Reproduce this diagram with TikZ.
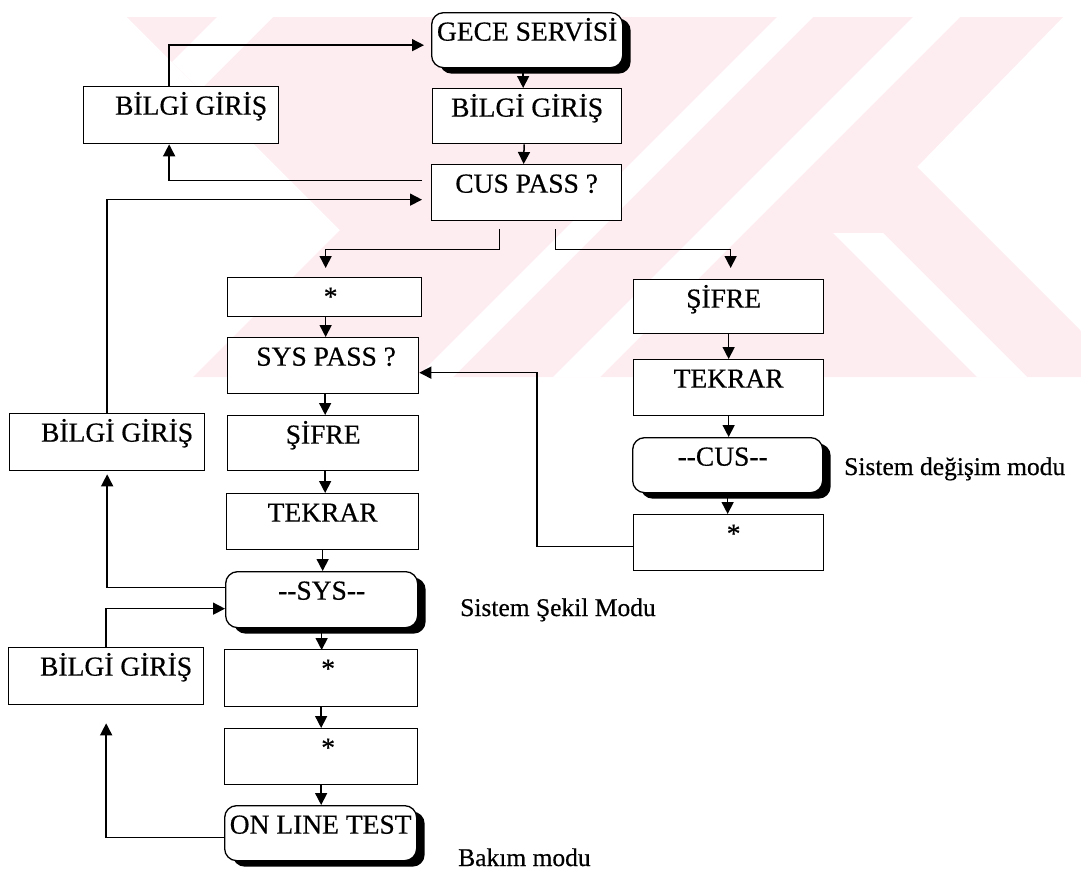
\documentclass[tikz,border=0pt]{standalone}
\usepackage{fontspec}
\setmainfont{Liberation Serif}[FakeBold=0.5]
\usetikzlibrary{shadows,arrows.meta,calc}
\definecolor{wm}{RGB}{253,236,240}
\begin{document}
\begin{tikzpicture}[x=1pt,y=-1pt,
  every node/.style={font=\fontsize{27.5}{31}\selectfont},
  box/.style={draw, line width=1.3pt, fill=white, inner xsep=0pt, inner ysep=0pt,
    text height=28pt, anchor=north west},
  rbox/.style={box, rounded corners=12pt,
    drop shadow={shadow xshift=8pt, shadow yshift=-6pt, fill=black, opacity=1}},
  arr/.style={line width=1.5pt, -{Triangle[length=12pt,width=12pt]}},
  lbl/.style={inner sep=0pt, anchor=base west, font=\fontsize{25.5}{30}\selectfont}]
\useasboundingbox (0,0) rectangle (1081,871);

% background emblem
\begin{scope}
  \clip (127,17) -- (1063,17) -- (917,167) -- (1081,331) -- (1081,377)
        -- (193,377) -- (340,230) -- cycle;
  \fill[wm] (0,0) rectangle (1081,400);
  \fill[white] (234,0) -- (290,0) -- (-110,400) -- (-166,400) -- cycle;
  \fill[white] (794,0) -- (830,0) -- (430,400) -- (394,400) -- cycle;
  \fill[white] (930,0) -- (977,0) -- (577,400) -- (530,400) -- cycle;
  \fill[white] (833,233) -- (883,233) -- (1083,433) -- (1033,433) -- cycle;
\end{scope}

% main column
\node[rbox, minimum width=191pt, text depth=27pt] (gece) at (431,12) {GECE SERVİSİ};
\node[box, minimum width=189pt, text depth=27pt] (b1) at (432,88) {BİLGİ GİRİŞ};
\node[box, minimum width=190pt, text depth=28pt] (cus) at (431,164) {CUS PASS ?};

% system column
\node[box, minimum width=194pt, text depth=11pt] (star1) at (227,277) {\hspace*{12pt}*};
\node[box, minimum width=191pt, text depth=28pt] (sp) at (227,337) {\hspace*{6pt}SYS PASS ?};
\node[box, minimum width=191pt, text depth=27pt] (sif1) at (227,415) {ŞİFRE};
\node[box, minimum width=192pt, text depth=28pt] (tek1) at (226,493) {TEKRAR};
\node[rbox, minimum width=192pt, text depth=28pt] (sys) at (225,571) {-{}-SYS-{}-};
\node[box, minimum width=193pt, text depth=29pt] (star2) at (224,649) {\hspace*{14pt}*};
\node[box, minimum width=193pt, text depth=28pt] (star3) at (224,728) {\hspace*{14pt}*};
\node[rbox, minimum width=192pt, text depth=27pt] (onl) at (224,805) {ON LINE TEST};

% customer column
\node[box, minimum width=190pt, text depth=26pt] (sif2) at (633,279) {ŞİFRE\hspace*{10pt}};
\node[box, minimum width=190pt, text depth=28pt] (tek2) at (633,359) {TEKRAR};
\node[rbox, minimum width=190pt, text depth=27pt] (cus2) at (632,437) {-{}-CUS-{}-\hspace*{10pt}};
\node[box, minimum width=190pt, text depth=28pt] (star4) at (633,514) {\hspace*{10pt}*};

% data entry boxes
\node[box, minimum width=195pt, text depth=29pt] (bl1) at (83,86) {\hspace*{20pt}BİLGİ GİRİŞ};
\node[box, minimum width=195pt, text depth=29pt] (bl2) at (9,413) {\hspace*{20pt}BİLGİ GİRİŞ};
\node[box, minimum width=195pt, text depth=29pt] (bl3) at (8,647) {\hspace*{20pt}BİLGİ GİRİŞ};

% mode labels
\node[lbl] (m1) at (844,475) {Sistem değişim modu};
\node[lbl] (m2) at (460,616) {Sistem Şekil Modu};
\node[lbl] (m3) at (458,866) {Bakım modu};

% main flow
\draw[arr] ([xshift=-4pt]gece.south) -- ([xshift=-4pt]b1.north);
\draw[arr] ([xshift=-3pt]b1.south) -- ([xshift=-3pt]cus.north);
\draw[arr, shorten >=9pt] ([xshift=-27pt,yshift=-8pt]cus.south) -- ++(0,20) -| ([xshift=1pt]star1.north);
\draw[arr, shorten >=11pt] ([xshift=29pt,yshift=-8pt]cus.south) -- ++(0,20) -| ([xshift=2pt]sif2.north);

\draw[arr] ([xshift=1pt]star1.south) -- ([xshift=1pt]star1.south |- sp.north);
\draw[arr] ([xshift=2pt]sp.south) -- ([xshift=2pt]sp.south |- sif1.north);
\draw[arr] ([xshift=2pt]sif1.south) -- ([xshift=2pt]sif1.south |- tek1.north);
\draw[arr] (tek1.south) -- (tek1.south |- sys.north);
\draw[arr] (sys.south) -- ([yshift=-1pt]sys.south |- star2.north);
\draw[arr] (star2.south) -- (star2.south |- star3.north);
\draw[arr] (star3.south) -- (star3.south |- onl.north);

\draw[arr] (sif2.south) -- (sif2.south |- tek2.north);
\draw[arr] (tek2.south) -- (tek2.south |- cus2.north);
\draw[arr] (cus2.south) -- (cus2.south |- star4.north);
\draw[arr] ([yshift=-4pt]star4.west) -- ++(-96,0) |- ([yshift=-7pt]sp.east);

% data entry loops
\draw[arr, shorten >=7pt] ([xshift=-12pt]bl1.north) |- ([yshift=-5pt]gece.west);
\draw[arr] ([xshift=-9pt,yshift=12pt]cus.west) -| ([xshift=-12pt]bl1.south);
\draw[arr, shorten >=9pt] (bl2.north) |- ([yshift=-7pt]cus.west);
\draw[arr, shorten >=3pt] ([yshift=12pt]sys.west) -| (bl2.south);
\draw[arr] (bl3.north) |- ([yshift=-9pt]sys.west);
\draw[arr, shorten >=18pt] ([yshift=-4.5pt]onl.west) -| (bl3.south);
\end{tikzpicture}
\end{document}
